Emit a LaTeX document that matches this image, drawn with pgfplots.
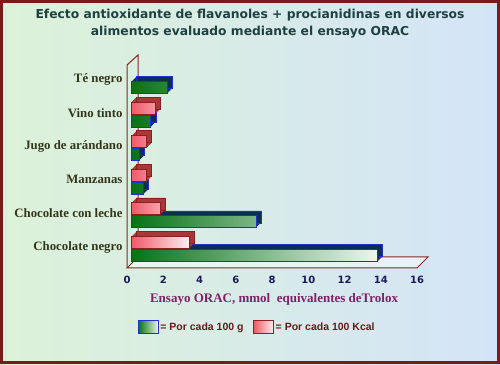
\documentclass[border=0pt]{standalone}
\usepackage{pgfplots}
\usepackage{pgfplotstable}
\pgfplotsset{compat=1.18}
\usepackage{fontspec}
\setmainfont{Liberation Serif}
\newfontfamily\sansb{Liberation Sans}
\newfontfamily\dejab{DejaVu Sans}
\definecolor{bgL}{HTML}{DCF2D8}
\definecolor{bgM}{HTML}{E0F8F2}
\definecolor{bgR}{HTML}{D4E4F8}
\definecolor{framecol}{HTML}{7A1A1A}
\definecolor{titlecol}{HTML}{1E4040}
\definecolor{boxcol}{HTML}{8B2525}
\definecolor{catcol}{HTML}{33361A}
\definecolor{tickcol}{HTML}{1A1A55}
\definecolor{labcol}{HTML}{7E2266}
\definecolor{legcol}{HTML}{6A1818}
\definecolor{gL}{HTML}{067216}
\definecolor{gM}{HTML}{1E8A2A}
\definecolor{gR}{HTML}{EEF6EE}
\definecolor{gB}{HTML}{2030C8}
\definecolor{gD}{HTML}{0A3050}
\definecolor{rL}{HTML}{F05868}
\definecolor{rM}{HTML}{F58E98}
\definecolor{rR}{HTML}{FCEEF0}
\definecolor{rB}{HTML}{8C2020}
\definecolor{rD}{HTML}{A83838}

\pgfplotstableread{
v pos
13.6 0
6.9 1
0.7 2
0.45 3
1.1 4
2.0 5
}\greentab
\pgfplotstableread{
v pos
3.2 0
1.6 1
0.87 2
0.87 3
1.36 4
}\redtab

\begin{document}
\begin{tikzpicture}[x=1pt,y=1pt]
\shade[left color=bgL, middle color=bgM, right color=bgR] (0,0) rectangle (500,364);
\draw[line width=3pt, framecol] (1.5,1.5) rectangle (498.5,362.5);
\node[font=\dejab\bfseries\fontsize{12.3}{17}\selectfont, align=center, text=titlecol] at (250,340.5)
 {Efecto antioxidante de flavanoles + procianidinas en diversos\\alimentos evaluado mediante el ensayo ORAC};
% 3D box
\fill[white, opacity=0.45] (127,96) -- (417,96) -- (428,107) -- (138,107) -- cycle;
\draw[boxcol, line width=1pt] (127,96) -- (417,96) -- (428,107) -- (138,107) -- cycle;
\draw[boxcol, line width=1pt] (138,107) -- (138,309) -- (127,299) -- (127,96);
\begin{axis}[
  at={(127pt,96pt)}, anchor=south west,
  scale only axis, width=290pt, height=203pt,
  xmin=0, xmax=16, ymin=-0.625, ymax=5.42,
  clip=false,
  axis line style={draw=none},
  major tick length=0pt,
  xtick={0,2,...,16},
  ytick={0,1,2,3,4,5},
  yticklabels={Chocolate negro, Chocolate con leche, Manzanas, Jugo de arándano, Vino tinto, \raisebox{-5pt}{Té negro}},
  yticklabel style={font=\bfseries\fontsize{12.8}{14}\selectfont, text=catcol, xshift=-1pt},
  xticklabel style={font=\dejab\bfseries\fontsize{10}{12}\selectfont, text=tickcol, yshift=-5pt},
  /pgf/number format/assume math mode=true,
  xlabel={Ensayo ORAC, mmol\ \ equivalentes deTrolox},
  xlabel style={at={(axis description cs:0.507,0)}, anchor=center, yshift=-31pt,
     font=\bfseries\fontsize{13}{15}\selectfont, text=labcol},
  legend style={at={(axis description cs:0.448,-0.29)}, anchor=center, draw=none, fill=none,
     legend columns=2, font=\sansb\bfseries\fontsize{10.5}{12}\selectfont, text=legcol,
     /tikz/every even column/.append style={column sep=8pt},
     nodes={inner xsep=1.5pt}},
  xbar, bar width=12pt,
]
\pgfplotsinvokeforeach{1,2,3,4}{
  \addplot[forget plot, xbar, bar shift=-8.5pt, fill=gD, draw=none, xshift=4pt+#1pt, yshift=#1pt] table[x=v,y=pos]{\greentab};
}
\addplot[forget plot, xbar, bar shift=-8.5pt, fill=gD, draw=gB, line width=0.8pt, xshift=9pt, yshift=5pt] table[x=v,y=pos]{\greentab};
\addplot[xbar, bar shift=-8.5pt, draw=gB, line width=1pt, left color=gL, middle color=gM, right color=gR, xshift=4pt,
  legend image code/.code={\draw[draw=gB, line width=1.2pt, left color=gL, right color=gR] (0pt,-6pt) rectangle (20pt,7pt);}]
  table[x=v,y=pos]{\greentab};
\addlegendentry{= Por cada 100 g}
\pgfplotsinvokeforeach{1,2,3,4}{
  \addplot[forget plot, xbar, bar shift=4.5pt, fill=rD, draw=none, xshift=4pt+#1pt, yshift=#1pt] table[x=v,y=pos]{\redtab};
}
\addplot[forget plot, xbar, bar shift=4.5pt, fill=rD, draw=rB, line width=0.8pt, xshift=9pt, yshift=5pt] table[x=v,y=pos]{\redtab};
\addplot[xbar, bar shift=4.5pt, draw=rB, line width=1pt, left color=rL, middle color=rM, right color=rR, xshift=4pt,
  legend image code/.code={\draw[draw=rB, line width=1.2pt, left color=rL, right color=rR] (0pt,-6pt) rectangle (20pt,7pt);}]
  table[x=v,y=pos]{\redtab};
\addlegendentry{= Por cada 100 Kcal}
\end{axis}
\end{tikzpicture}
\end{document}
